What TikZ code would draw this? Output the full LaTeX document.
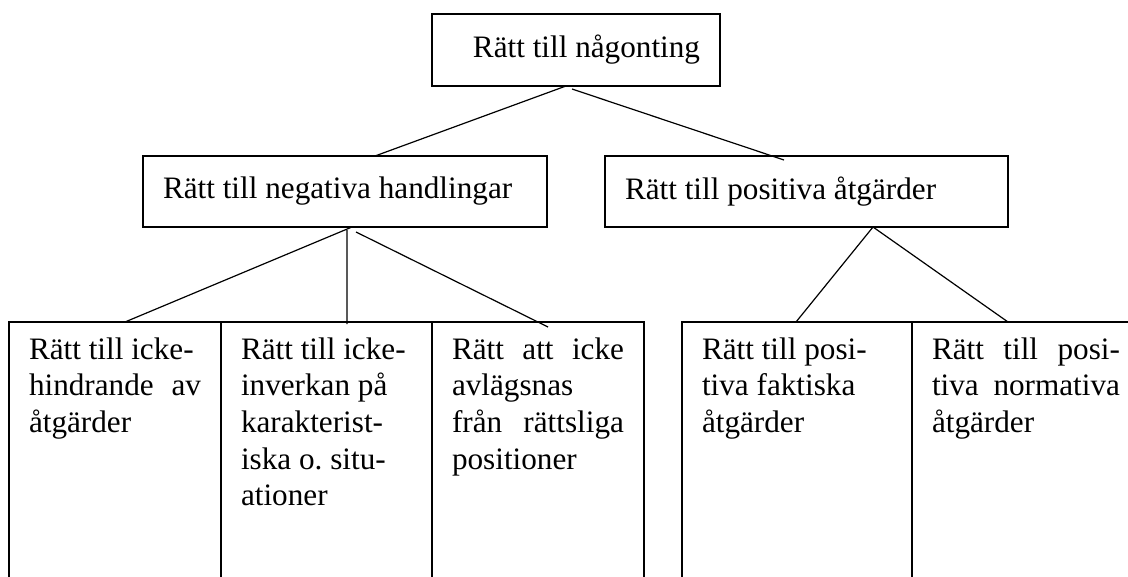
\documentclass[tikz,border=0pt]{standalone}
\usepackage{fontspec}
\setmainfont{Liberation Serif}
\usetikzlibrary{positioning}
\usetikzlibrary{calc}

\begin{document}
\begin{tikzpicture}[x=0.5pt, y=-0.5pt, line width=0.6pt]
    \tikzset{
      every node/.style={font=\fontsize{15.6}{18.35}\selectfont\frenchspacing, outer sep=0pt},
      box/.style={draw, rectangle, inner xsep=10pt, inner ysep=0pt, minimum height=35.5pt},
      col/.style={draw, rectangle, anchor=north west, align=flush left, inner xsep=10pt,
                  inner ysep=7.5pt, text height=11pt, text depth=150pt},
    }
    \useasboundingbox (0,0) rectangle (1128,577);
    \clip (0,0) rectangle (1128,577);

    \node[box, anchor=north west, text width=124pt, minimum height=36pt, align=flush right]
      (root) at (432,14) {Rätt till någonting};
    \node[box, anchor=north west, text width=182pt, align=flush left]
      (neg) at (143,156) {Rätt till negativa handlingar};
    \node[box, right=29pt of neg, text width=181.5pt, align=flush left]
      (pos) {Rätt till positiva åtgärder};

    \node[col, text width=86pt] (neg1) at (9,322)
      {Rätt till icke-\\hindrande\hfill av\\åtgärder};
    \node[col, text width=85.5pt, anchor=west, right=0pt of neg1] (neg2)
      {Rätt till icke-\\inverkan på\\karakterist-\\iska o. situ-\\ationer};
    \node[col, text width=86pt, anchor=west, right=0pt of neg2] (neg3)
      {Rätt\hfill att\hfill icke\\avlägsnas\\från\hfill rättsliga\\positioner};
    \node[col, text width=95pt, anchor=west, right=19pt of neg3] (pos1)
      {Rätt till posi-\\tiva faktiska\\åtgärder};
    \node[col, text width=94pt, anchor=west, right=0pt of pos1] (pos2)
      {Rätt\hfill till\hfill posi-\\tiva\hfill normativa\\åtgärder};

    \draw
      ($(root.south)+(-10,0)$) -- ($(neg.north)+(30,0)$)
      ($(root.south)+(-4,3)$) -- ($(pos.north)+(-22.5,4)$)
      ($(neg.south)+(7,0)$) -- ($(neg1.north)+(10,0)$)
      ($(neg.south)+(2,3)$) -- ($(neg2.north)+(20.5,2)$)
      ($(neg.south)+(11,5)$) -- ($(neg3.north)+(10,5)$)
      ($(pos.south)+(66.5,0)$) -- ($(pos1.north)+(-1,0)$)
      ($(pos.south)+(66.5,0)$) -- ($(pos2.north)+(-18,0)$);
  \end{tikzpicture}
\end{document}
